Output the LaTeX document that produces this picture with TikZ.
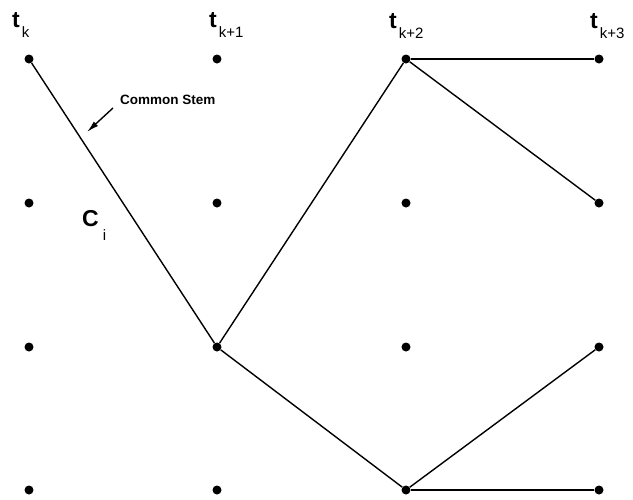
\documentclass[tikz,border=0pt]{standalone}
\usepackage{fontspec}
\setmainfont{Liberation Sans}
\usetikzlibrary{arrows.meta}
\newcommand{\tsub}[1]{\raisebox{-10pt}{\fontsize{15}{15}\selectfont\mdseries #1}}
\begin{document}
\begin{tikzpicture}[x=1pt,y=-1pt,
  dot/.style={circle,fill=black,inner sep=0pt,minimum size=9pt},
  link/.style={line width=1.4pt},
  tlab/.style={anchor=base west,inner sep=0pt,font=\fontsize{23}{23}\selectfont\bfseries}]
\useasboundingbox (0,0) rectangle (633,499);
\foreach \c/\x in {1/29,2/217,3/406,4/599}
  \foreach \r/\y in {1/59,2/203,3/347,4/490}
    \node[dot] (n\c\r) at (\x,\y) {};
\node[tlab] (l1) at (12,27) {t\hspace{2pt}\tsub{k}};
\node[tlab] (l2) at (209,27) {t\hspace{2pt}\tsub{k+1}};
\node[tlab] (l3) at (389,28) {t\hspace{2pt}\tsub{k+2}};
\node[tlab] (l4) at (590,28) {t\hspace{2pt}\tsub{k+3}};
\draw[link] (n11) -- (n23);
\draw[link] (n23) -- (n31);
\draw[link] (n31) -- (n41);
\draw[link] (n31) -- (n42);
\draw[link] (n23) -- (n34);
\draw[link] (n34) -- (n43);
\draw[link] (n34) -- (n44);
\node[anchor=base west,inner sep=0pt,font=\fontsize{13.5}{13.5}\selectfont\bfseries] (cs) at (120,104) {Common Stem};
\coordinate (a1) at (113,108);
\coordinate (a2) at (87,132);
\draw[line width=1.4pt,-{Latex[length=12pt,width=6pt]}] (a1) -- (a2);
\node[anchor=base west,inner sep=0pt,font=\fontsize{23}{23}\selectfont\bfseries] (ci) at (82,226) {C\hspace{4pt}\raisebox{-14pt}{\fontsize{15}{15}\selectfont\mdseries i}};
\end{tikzpicture}
\end{document}
